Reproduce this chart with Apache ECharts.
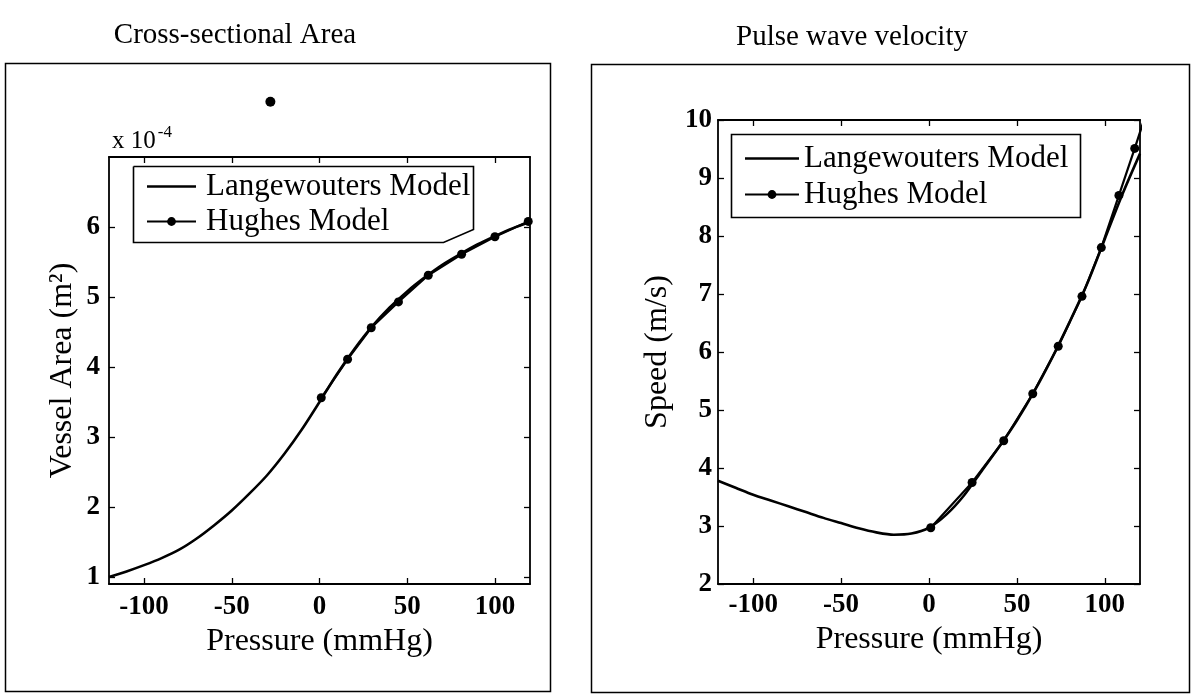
<!DOCTYPE html>
<html>
<head>
<meta charset="utf-8">
<script src="https://cdn.jsdelivr.net/npm/echarts@6/dist/echarts.min.js"></script>
<style>
  html, body { margin: 0; padding: 0; background: #ffffff; }
  #chart { width: 1193px; height: 698px; }
</style>
</head>
<body>
<div id="chart"></div>
<script>
// Pressure samples for the Langewouters curves (mmHg)
const pressureLang = [-120, -110, -100, -90, -80, -70, -60, -50, -40, -30, -20, -10, 0,
                      10, 20, 30, 40, 50, 60, 70, 80, 90, 100, 110, 120];
// Vessel cross-sectional area, Langewouters model (x 10^-4 m^2)
const areaLang = [1.00, 1.08, 1.17, 1.27, 1.39, 1.55, 1.74, 1.95, 2.19, 2.45, 2.76, 3.11, 3.50,
                  3.90, 4.26, 4.58, 4.85, 5.08, 5.28, 5.46, 5.61, 5.75, 5.87, 5.98, 6.07];
// Pulse wave velocity, Langewouters model (m/s)
const speedLang = [3.78, 3.66, 3.54, 3.44, 3.34, 3.24, 3.14, 3.05, 2.96, 2.89, 2.85, 2.87, 2.97,
                   3.20, 3.53, 3.95, 4.37, 4.82, 5.33, 5.90, 6.52, 7.18, 7.95, 8.72, 9.42];

// Hughes model samples (plotted with markers)
const pressureHughesArea = [1, 16, 29.5, 45, 62, 81, 100, 119];
const areaHughes = [3.56, 4.11, 4.56, 4.93, 5.31, 5.61, 5.86, 6.08];
const pressureHughesSpeed = [1, 24.5, 42.5, 59, 73.5, 87, 98, 108, 117, 125.5];
const speedHughes = [2.97, 3.75, 4.47, 5.28, 6.10, 6.96, 7.80, 8.70, 9.51, 10.30];

// Lone marker printed above the area panel
const strayPressure = [-28];
const strayArea = [7.79];

// Tick labels
const pressureTicks = [-100, -50, 0, 50, 100];
const areaTicks = [1, 2, 3, 4, 5, 6];
const speedTicks = [2, 3, 4, 5, 6, 7, 8, 9, 10];

const SERIF = 'Liberation Serif, Times New Roman, serif';
const pairs = (xs, ys) => xs.map((x, i) => [x, ys[i]]);

const chart = echarts.init(document.getElementById('chart'), null, { renderer: 'canvas' });

const grids = [
  { left: 109, top: 157, width: 421, height: 427 },
  { left: 718, top: 120, width: 422, height: 464 }
];

const tickFont = { color: '#000', fontFamily: SERIF, fontSize: 27, fontWeight: 'bold' };
const nameFont = { color: '#000', fontFamily: SERIF, fontSize: 32 };

function xAxisPair(g, labelMargin, nameGap) {
  return [
    {
      type: 'value', gridIndex: g, min: -120, max: 120, position: 'bottom',
      axisLine: { show: true, onZero: false, lineStyle: { color: '#000', width: 1.8 } },
      axisTick: { show: true, inside: true, length: 6, customValues: pressureTicks, lineStyle: { color: '#000', width: 1.3 } },
      axisLabel: Object.assign({ show: true, customValues: pressureTicks, margin: labelMargin }, tickFont),
      splitLine: { show: false },
      name: 'Pressure (mmHg)', nameLocation: 'middle', nameGap: nameGap,
      nameTextStyle: nameFont
    },
    {
      type: 'value', gridIndex: g, min: -120, max: 120, position: 'top',
      axisLine: { show: true, onZero: false, lineStyle: { color: '#000', width: 1.8 } },
      axisTick: { show: true, inside: true, length: 6, customValues: pressureTicks, lineStyle: { color: '#000', width: 1.3 } },
      axisLabel: { show: false },
      splitLine: { show: false }
    }
  ];
}

function yAxisPair(g, min, max, ticks, name, labelMargin, nameGap) {
  return [
    {
      type: 'value', gridIndex: g, min: min, max: max, position: 'left',
      axisLine: { show: true, onZero: false, lineStyle: { color: '#000', width: 1.8 } },
      axisTick: { show: true, inside: true, length: 6, customValues: ticks, lineStyle: { color: '#000', width: 1.3 } },
      axisLabel: Object.assign({ show: true, customValues: ticks, margin: labelMargin }, tickFont),
      splitLine: { show: false },
      name: name, nameLocation: 'middle', nameGap: nameGap, nameRotate: 90,
      nameTextStyle: nameFont
    },
    {
      type: 'value', gridIndex: g, min: min, max: max, position: 'right',
      axisLine: { show: true, onZero: false, lineStyle: { color: '#000', width: 1.8 } },
      axisTick: { show: true, inside: true, length: 6, customValues: ticks, lineStyle: { color: '#000', width: 1.3 } },
      axisLabel: { show: false },
      splitLine: { show: false }
    }
  ];
}

const lineStyleLang = { color: '#000', width: 2.6 };
const lineStyleHughes = { color: '#000', width: 2.2 };
const legendText = { color: '#000', fontFamily: SERIF, fontSize: 31, lineHeight: 31 };
// plain stroke used as the legend key of the continuous model
const plainLineIcon = 'path://M0,0h50v2.5h-50z';

const legendItems = [
  { name: 'Langewouters Model', icon: plainLineIcon },
  { name: 'Hughes Model' }
];

const option = {
  backgroundColor: '#ffffff',
  animation: false,
  title: [
    { text: 'Cross-sectional Area', left: 235, top: 21, textAlign: 'center', padding: 0,
      textStyle: { color: '#000', fontFamily: SERIF, fontSize: 29, fontWeight: 'normal' } },
    { text: 'Pulse wave velocity', left: 852, top: 23, textAlign: 'center', padding: 0,
      textStyle: { color: '#000', fontFamily: SERIF, fontSize: 29, fontWeight: 'normal' } }
  ],
  grid: grids,
  xAxis: [...xAxisPair(0, 10, 41), ...xAxisPair(1, 8, 40)],
  yAxis: [
    ...yAxisPair(0, 0.9, 7, areaTicks, 'Vessel Area (m²)', 9, 30),
    ...yAxisPair(1, 2, 10, speedTicks, 'Speed (m/s)', 6, 44)
  ],
  legend: [
    {
      orient: 'vertical', left: 146, top: 171, padding: 0, itemGap: 4, z: 20,
      itemWidth: 49, itemHeight: 11, symbolKeepAspect: true,
      data: legendItems,
      textStyle: Object.assign({ padding: [0, 0, 0, 5] }, legendText),
      selectedMode: false
    },
    {
      orient: 'vertical', left: 744, top: 143, padding: 0, itemGap: 5, z: 20,
      itemWidth: 54, itemHeight: 11, symbolKeepAspect: true,
      data: legendItems,
      textStyle: Object.assign({ padding: [0, 0, 0, 0] }, legendText),
      selectedMode: false
    }
  ],
  series: [
    {
      name: 'Langewouters Model', type: 'line', xAxisIndex: 0, yAxisIndex: 0,
      data: pairs(pressureLang, areaLang), smooth: 0.3, symbol: 'none',
      lineStyle: lineStyleLang, itemStyle: { color: '#000' }, z: 3
    },
    {
      name: 'Hughes Model', type: 'line', xAxisIndex: 0, yAxisIndex: 0,
      data: pairs(pressureHughesArea, areaHughes), symbol: 'circle', symbolSize: 9,
      lineStyle: lineStyleHughes, itemStyle: { color: '#000' }, z: 4
    },
    {
      name: 'stray', type: 'scatter', xAxisIndex: 0, yAxisIndex: 0, clip: false,
      data: pairs(strayPressure, strayArea), symbol: 'circle', symbolSize: 10,
      itemStyle: { color: '#000', opacity: 1 }, silent: true
    },
    {
      name: 'Langewouters Model', type: 'line', xAxisIndex: 2, yAxisIndex: 2,
      data: pairs(pressureLang, speedLang), smooth: 0.3, symbol: 'none',
      lineStyle: lineStyleLang, itemStyle: { color: '#000' }, z: 3
    },
    {
      name: 'Hughes Model', type: 'line', xAxisIndex: 2, yAxisIndex: 2,
      data: pairs(pressureHughesSpeed, speedHughes), symbol: 'circle', symbolSize: 9,
      lineStyle: lineStyleHughes, itemStyle: { color: '#000' }, z: 4
    }
  ],
  graphic: [
    // panel frames
    { type: 'rect', shape: { x: 5.5, y: 63.5, width: 545, height: 628 },
      style: { fill: 'none', stroke: '#000', lineWidth: 1.5 }, silent: true },
    { type: 'rect', shape: { x: 591.5, y: 64.5, width: 598, height: 628 },
      style: { fill: 'none', stroke: '#000', lineWidth: 1.5 }, silent: true },
    // legend frames
    { type: 'polyline', shape: { points: [[133.5, 166.5], [473.5, 166.5], [473.5, 229.5], [443.5, 242.5], [133.5, 242.5], [133.5, 166.5]] },
      style: { fill: 'none', stroke: '#000', lineWidth: 1.6 }, z: 1, silent: true },
    { type: 'rect', shape: { x: 731.5, y: 134.5, width: 349, height: 83 },
      style: { fill: 'none', stroke: '#000', lineWidth: 1.6 }, z: 1, silent: true },
    // exponent note of the area axis
    { type: 'text', left: 112, top: 124, z: 10,
      style: {
        text: '{b|x 10}{s|-4}',
        rich: {
          b: { fontFamily: SERIF, fontSize: 25, fill: '#000', lineHeight: 30, verticalAlign: 'bottom' },
          s: { fontFamily: SERIF, fontSize: 17, fill: '#000', lineHeight: 30, verticalAlign: 'top', padding: [0, 0, 0, 2] }
        }
      } }
  ]
};

chart.setOption(option);
</script>
</body>
</html>
